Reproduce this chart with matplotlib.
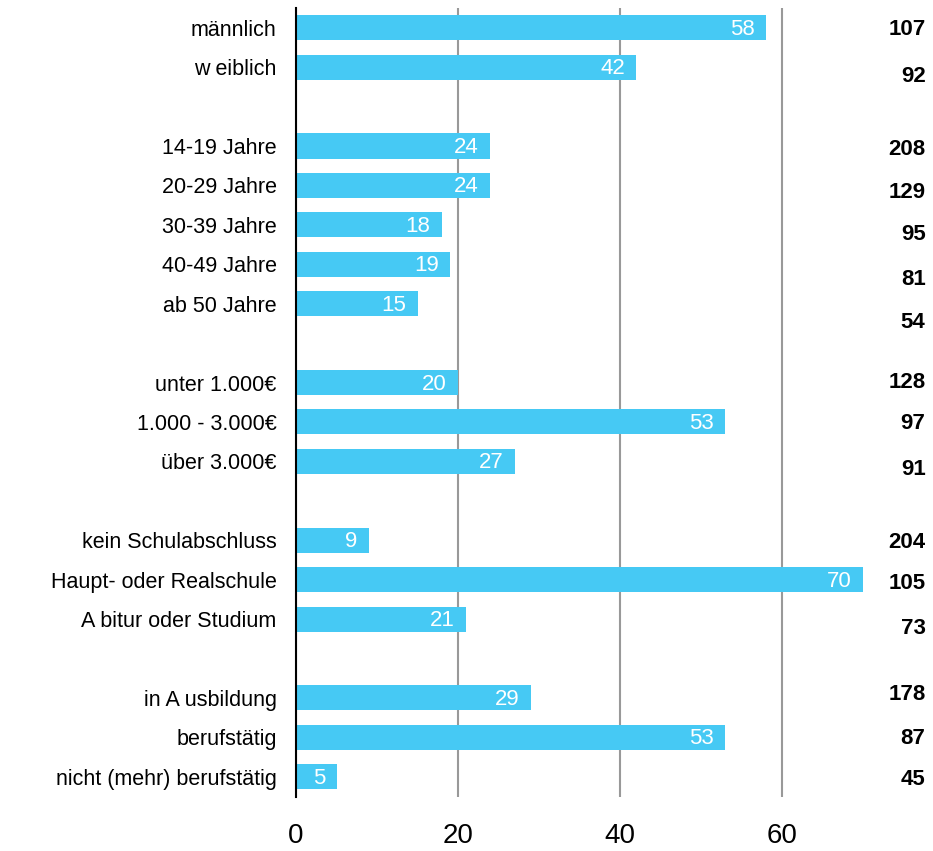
import matplotlib.pyplot as plt
from matplotlib.transforms import blended_transform_factory

plt.rcParams['font.family'] = ['Liberation Sans', 'DejaVu Sans']

# categories per group (empty row between groups)
groups = [
    ['männlich', 'w eiblich'],
    ['14-19 Jahre', '20-29 Jahre', '30-39 Jahre', '40-49 Jahre', 'ab 50 Jahre'],
    ['unter 1.000€', '1.000 - 3.000€', 'über 3.000€'],
    ['kein Schulabschluss', 'Haupt- oder Realschule', 'A bitur oder Studium'],
    ['in A usbildung', 'berufstätig', 'nicht (mehr) berufstätig'],
]
values = [
    [58, 42],
    [24, 24, 18, 19, 15],
    [20, 53, 27],
    [9, 70, 21],
    [29, 53, 5],
]
counts = [
    [107, 92],
    [208, 129, 95, 81, 54],
    [128, 97, 91],
    [204, 105, 73],
    [178, 87, 45],
]
# small vertical shift of the count column (in rows)
count_shift = [
    [0.05, 0.23],
    [0.1, 0.18, 0.25, 0.38, 0.48],
    [0.0, 0.05, 0.2],
    [0.05, 0.1, 0.23],
    [-0.08, 0.02, 0.08],
]

bar_color = '#46C9F4'

fig = plt.figure(figsize=(9.33, 8.51), dpi=100)
ax = fig.add_axes([0.3173, 0.064, 0.6077, 0.9266])

labels = []
ypos = []
vals = []
cnts = []
shifts = []
row = 0
for g in range(len(groups)):
    for i in range(len(groups[g])):
        labels.append(groups[g][i])
        ypos.append(row)
        vals.append(values[g][i])
        cnts.append(counts[g][i])
        shifts.append(count_shift[g][i])
        row += 1
    row += 1

ax.barh(ypos, vals, height=0.635, color=bar_color, zorder=3)
for y, v in zip(ypos, vals):
    ax.text(v - 1.4, y + 0.04, str(v), color='white', fontsize=16,
            ha='right', va='center', zorder=4)
trans = blended_transform_factory(fig.transFigure, ax.transData)
for y, c, s in zip(ypos, cnts, shifts):
    ax.text(0.992, y + s, str(c), transform=trans,
            fontsize=16, fontweight='bold', ha='right', va='center')

ax.set_xlim(0, 70)
ax.set_ylim(max(ypos) + 0.5, -0.5)
ax.set_yticks(ypos)
ax.set_yticklabels(labels, fontsize=15.5)
ax.set_xticks([0, 20, 40, 60])
ax.tick_params(axis='y', length=0, pad=14)
ax.tick_params(axis='x', length=0, pad=19, labelsize=20)
ax.xaxis.grid(True, color='#999999', linewidth=1.5, zorder=0)
ax.set_axisbelow(True)
for side in ['top', 'right', 'bottom']:
    ax.spines[side].set_visible(False)
ax.spines['left'].set_linewidth(1.5)
ax.spines['left'].set_zorder(5)

fig.savefig('out.png', dpi=100)
